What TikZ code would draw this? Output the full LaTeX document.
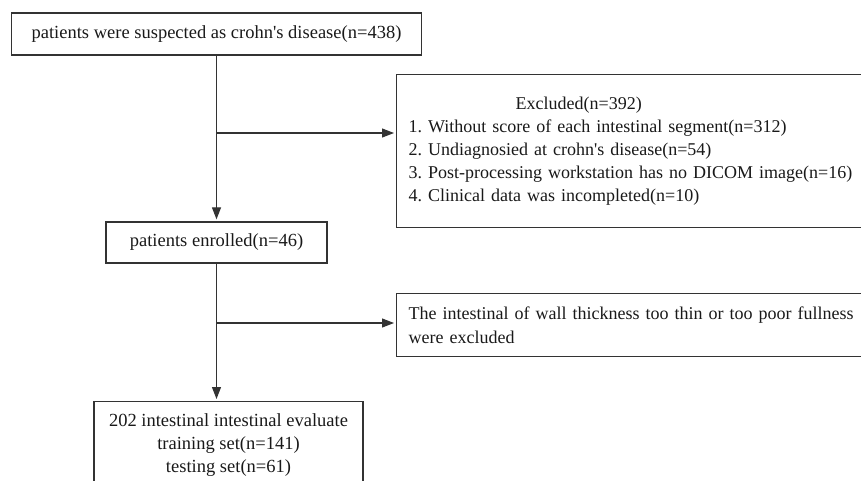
\documentclass[tikz,border=0pt]{standalone}
\usepackage{fontspec}
\setmainfont{Liberation Serif}
\usetikzlibrary{arrows.meta, positioning}
\frenchspacing

\begin{document}
\begin{tikzpicture}[
    x=1pt, y=-1pt,
    box/.style={rectangle, draw=black!80, line width=1.3pt, align=center, inner sep=0pt, text=black!90, font=\fontsize{18.5}{23}\selectfont},
    sidebox/.style={box, anchor=north west, minimum width=520, text width=496, inner xsep=12pt, align=left, font=\fontsize{18}{23.2}\selectfont},
    arrow/.style={-{Triangle[length=12pt, width=9pt]}, line width=1.1pt, draw=black!80, shorten >=2pt}
]
\useasboundingbox (0,0) rectangle (861,480);
\clip (0,0) rectangle (861,480);

% Suspected
\node[box, minimum width=410, minimum height=42] (suspected) at (216.5,34) {patients were suspected as crohn\textquotesingle s disease(n=438)};

% Excluded
\node[sidebox, minimum height=153] (excluded) at (396,74) {\hspace*{107pt}Excluded(n=392)\\1. Without score of each intestinal segment(n=312)\\2. Undiagnosied at crohn\textquotesingle s disease(n=54)\\3. Post-processing workstation has no DICOM image(n=16)\\4. Clinical data was incompleted(n=10)};

% Enrolled
\node[box, minimum width=221, minimum height=41] (enrolled) at (216.5,242.5) {patients enrolled(n=46)};

% Thin wall
\node[sidebox, minimum height=63] (thin) at (396,293) {The intestinal of wall thickness too thin or too poor fullness\\were excluded};

% Evaluate
\node[box, anchor=north, minimum width=269, minimum height=87] (evaluate) at (228.5,401) {202 intestinal intestinal evaluate\\training set(n=141)\\testing set(n=61)};

% Arrows
\coordinate (split1) at (216.5,133);
\coordinate (split2) at (216.5,323);
\draw[arrow] (suspected.south) -- (enrolled.north);
\draw[arrow] (split1) -- (split1 -| excluded.west);
\draw[arrow] (enrolled.south) -- (enrolled.south |- evaluate.north);
\draw[arrow] (split2) -- (split2 -| thin.west);

\end{tikzpicture}
\end{document}
